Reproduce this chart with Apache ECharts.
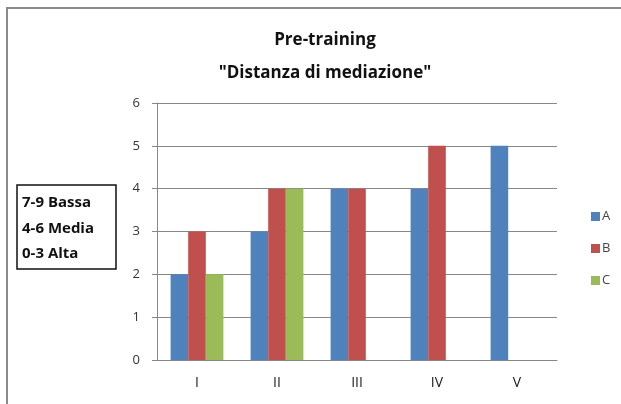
<!DOCTYPE html>
<html>
<head>
<meta charset="utf-8">
<script src="https://cdn.jsdelivr.net/npm/echarts@6/dist/echarts.min.js"></script>
<style>html,body{margin:0;padding:0;background:#fff;}#c{width:621px;height:404px;}</style>
</head>
<body>
<div id="c"></div>
<script>
const categories = ['I', 'II', 'III', 'IV', 'V'];
const seriesNames = ['A', 'B', 'C'];
const valuesA = [2, 3, 4, 4, 5];
const valuesB = [3, 4, 4, 5, null];
const valuesC = [2, 4, null, null, null];
const yTicks = [0, 1, 2, 3, 4, 5, 6];
const boxLines = ['7-9 Bassa', '4-6 Media', '0-3 Alta'];

const colors = ['#4F81BD', '#C0504D', '#9BBB59'];
const chart = echarts.init(document.getElementById('c'), null, {renderer: 'canvas'});
const font = 'Open Sans, sans-serif';

chart.setOption({
  animation: false,
  color: colors,
  title: {
    text: 'Pre-training\n"Distanza di mediazione"',
    left: 320, top: 19, textAlign: 'center',
    textStyle: {fontFamily: font, fontSize: 17, fontWeight: 'bold', color: '#111', lineHeight: 33}
  },
  legend: {
    orient: 'vertical', left: 586, top: 205, itemGap: 19,
    itemWidth: 9, itemHeight: 9, icon: 'rect',
    textStyle: {fontFamily: font, fontSize: 13, color: '#444', padding: [0, 0, 0, -3]},
    data: seriesNames
  },
  grid: {left: 157, right: 64, top: 103, bottom: 44, containLabel: false},
  xAxis: {
    type: 'category', data: categories,
    axisLine: {lineStyle: {color: '#888', width: 1}},
    axisTick: {show: false},
    axisLabel: {fontFamily: font, fontSize: 14, color: '#222', margin: 16}
  },
  yAxis: {
    type: 'value', min: yTicks[0], max: yTicks[yTicks.length - 1], interval: 1,
    axisLine: {show: true, lineStyle: {color: '#888', width: 1}},
    axisTick: {show: true, length: 5, lineStyle: {color: '#888'}},
    splitLine: {lineStyle: {color: '#888', width: 1}},
    axisLabel: {fontFamily: font, fontSize: 13, color: '#333', margin: 17}
  },
  series: [
    {name: seriesNames[0], type: 'bar', data: valuesA, barGap: '0%', barCategoryGap: '34%'},
    {name: seriesNames[1], type: 'bar', data: valuesB, barGap: '0%', barCategoryGap: '34%'},
    {name: seriesNames[2], type: 'bar', data: valuesC, barGap: '0%', barCategoryGap: '34%'}
  ],
  graphic: [
    {type: 'polyline', shape: {points: [[7, 404], [7, 8], [621, 8]]}, style: {stroke: '#8a8a8a', lineWidth: 2, fill: null}},
    {type: 'rect', shape: {x: 17, y: 185, width: 99, height: 84}, style: {stroke: '#111', lineWidth: 1.5, fill: '#fff'}},
    {type: 'text', left: 22, top: 190, style: {text: boxLines.join('\n'), fontFamily: font, fontSize: 15, fontWeight: 'bold', fill: '#111', lineHeight: 25.5}}
  ]
});
</script>
</body>
</html>
